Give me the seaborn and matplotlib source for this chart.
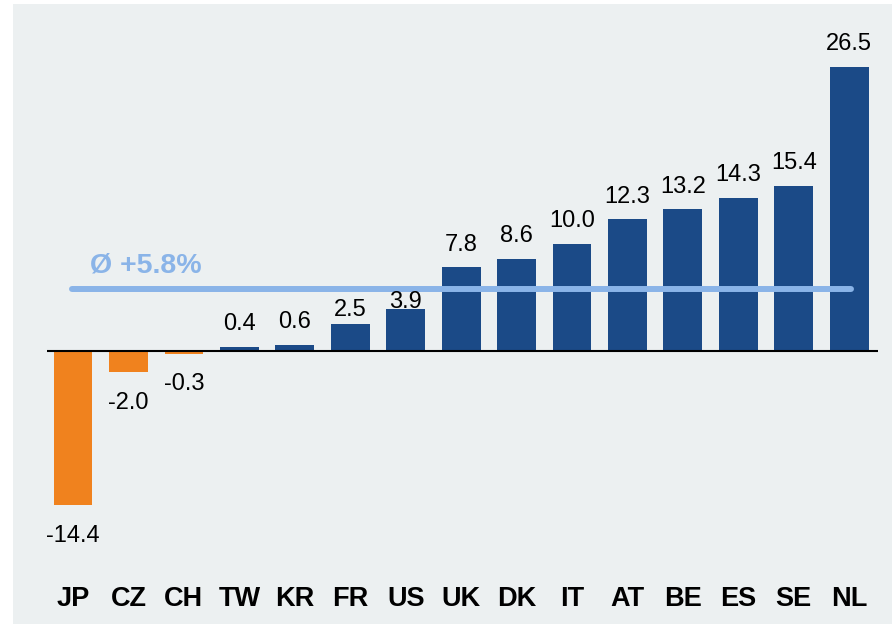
import matplotlib
matplotlib.use('Agg')
import matplotlib.pyplot as plt
from matplotlib.patches import Rectangle
import seaborn as sns
import pandas as pd

countries = ['JP', 'CZ', 'CH', 'TW', 'KR', 'FR', 'US', 'UK', 'DK', 'IT', 'AT', 'BE', 'ES', 'SE', 'NL']
values = [-14.4, -2.0, -0.3, 0.4, 0.6, 2.5, 3.9, 7.8, 8.6, 10.0, 12.3, 13.2, 14.3, 15.4, 26.5]
average = 5.8

BLUE = '#1B4A87'
ORANGE = '#F0821E'
AVG_COLOR = '#8AB4E8'
BG = '#ECF0F1'

sns.set_theme(style='white')
plt.rcParams['font.family'] = ['Liberation Sans', 'DejaVu Sans']

df = pd.DataFrame({'country': countries, 'value': values})
df['sign'] = ['neg' if v < 0 else 'pos' for v in values]

fig = plt.figure(figsize=(8.92, 6.24), dpi=100)
fig.patch.set_facecolor('white')
# grey panel behind the chart (slightly inset on left/top)
fig.patches.append(Rectangle((13 / 892, 0), 1, 620 / 624, transform=fig.transFigure,
                             facecolor=BG, edgecolor='none', zorder=-5))

ax = fig.add_axes([47 / 892, 0.1455, 831 / 892, 0.7816])
ax.set_facecolor('none')
ax.set_zorder(2)

sns.barplot(data=df, x='country', y='value', hue='sign', order=countries,
            palette={'neg': ORANGE, 'pos': BLUE}, dodge=False, width=0.7,
            saturation=1, legend=False, linewidth=0, ax=ax)

ax.set_xlim(-0.47, 14.52)
ax.set_ylim(-17, 28.5)
ax.axhline(0, color='black', lw=1.5, zorder=3)

# value labels; FR and US squeezed under the average line like in the original
squeeze = {'FR': 6, 'US': 11}
for c, v in zip(countries, values):
    off = 18 - squeeze.get(c, 0) if v >= 0 else -20
    ax.annotate(f'{v:.1f}', (c, v), xytext=(0, off), textcoords='offset points',
                ha='center', va='center_baseline', fontsize=17, color='black',
                zorder=5)

# average line
ax.plot([-0.02, 14.04], [average, average], color=AVG_COLOR, lw=4.3,
        solid_capstyle='round', zorder=4)
ax.text(0.31, 8.3, 'Ø +5.8%', color=AVG_COLOR, fontsize=20.5, fontweight='bold',
        ha='left', va='center_baseline')

ax.set_xlabel('')
ax.set_ylabel('')
ax.set_yticks([])
ax.tick_params(axis='x', length=0, pad=38, colors='black')
for lbl in ax.get_xticklabels():
    lbl.set_fontweight('bold')
    lbl.set_fontsize(19.5)
sns.despine(ax=ax, left=True, bottom=True)

fig.savefig('out.png', dpi=100, facecolor=fig.get_facecolor())
